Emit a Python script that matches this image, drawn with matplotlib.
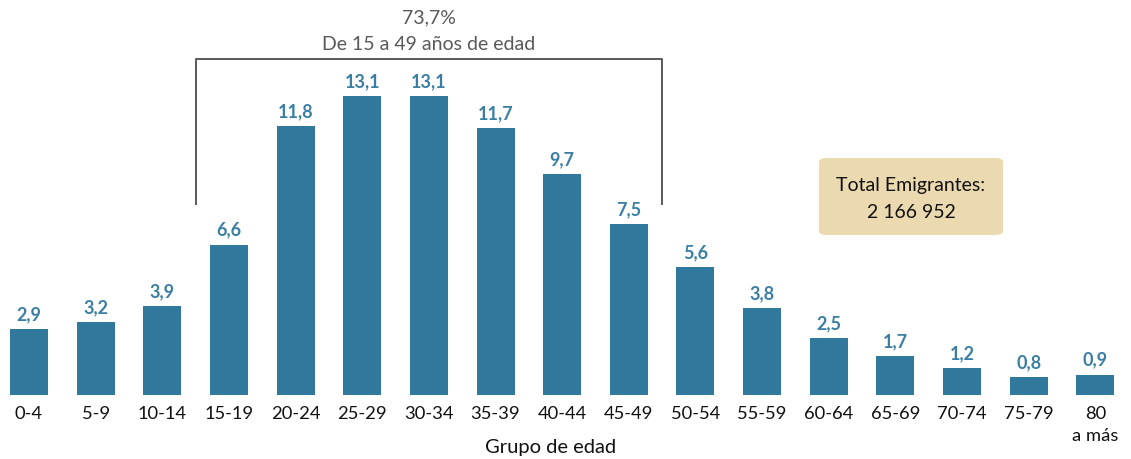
import matplotlib.pyplot as plt
from matplotlib.patches import FancyBboxPatch

# age groups and share of emigrants (%)
grupos = ['0-4', '5-9', '10-14', '15-19', '20-24', '25-29', '30-34', '35-39', '40-44',
          '45-49', '50-54', '55-59', '60-64', '65-69', '70-74', '75-79', '80\na más']
valores = [2.9, 3.2, 3.9, 6.6, 11.8, 13.1, 13.1, 11.7, 9.7, 7.5, 5.6, 3.8, 2.5, 1.7, 1.2, 0.8, 0.9]
etiquetas = ['2,9', '3,2', '3,9', '6,6', '11,8', '13,1', '13,1', '11,7', '9,7', '7,5',
             '5,6', '3,8', '2,5', '1,7', '1,2', '0,8', '0,9']

plt.rcParams['font.family'] = ['Lato', 'DejaVu Sans']

fig = plt.figure(figsize=(11.31, 4.6), dpi=100)
ax = fig.add_axes([0.002, 0.139, 0.996, 0.8426])

x = list(range(len(grupos)))
ax.bar(x, valores, width=0.57, color='#31799c')
for xi, v, t in zip(x, valores, etiquetas):
    ax.text(xi, v + 0.3, t, ha='center', va='bottom', fontsize=13,
            fontweight='bold', color='#3a7fa3')

ax.set_xlim(-0.4, 16.5)
ax.set_ylim(0, 17)
ax.set_xticks(x)
ax.set_xticklabels(grupos, fontsize=13.2, color='#111111')
for lbl in ax.get_xticklabels():
    lbl.set_linespacing(1.45)
ax.tick_params(axis='x', length=0, pad=7)
ax.set_yticks([])
for s in ax.spines.values():
    s.set_visible(False)
ax.set_xlabel('Grupo de edad', fontsize=14.5, color='#111111')
ax.xaxis.set_label_coords(0.487, -0.112)

# bracket for the 15-49 range
ax.plot([2.5, 2.5, 9.5, 9.5], [8.4, 14.75, 14.75, 8.4], color='#595959', lw=1.4,
        clip_on=False)
ax.text(6, 15.4, 'De 15 a 49 años de edad', ha='center', va='center', fontsize=14,
        color='#595959')
ax.text(6, 16.6, '73,7%', ha='center', va='center', fontsize=14, color='#595959')

# total box
box = FancyBboxPatch((819 / 1131, 1 - 236 / 460), 184 / 1131, 77 / 460,
                     boxstyle='round,pad=0,rounding_size=0.008',
                     transform=fig.transFigure, facecolor='#ebd9b0', edgecolor='none')
fig.patches.append(box)
fig.text(911 / 1131, 1 - 199 / 460, 'Total Emigrantes:\n2 166 952', ha='center',
         va='center', fontsize=14, color='#111111', linespacing=1.65)

fig.savefig('out.png', dpi=100)
